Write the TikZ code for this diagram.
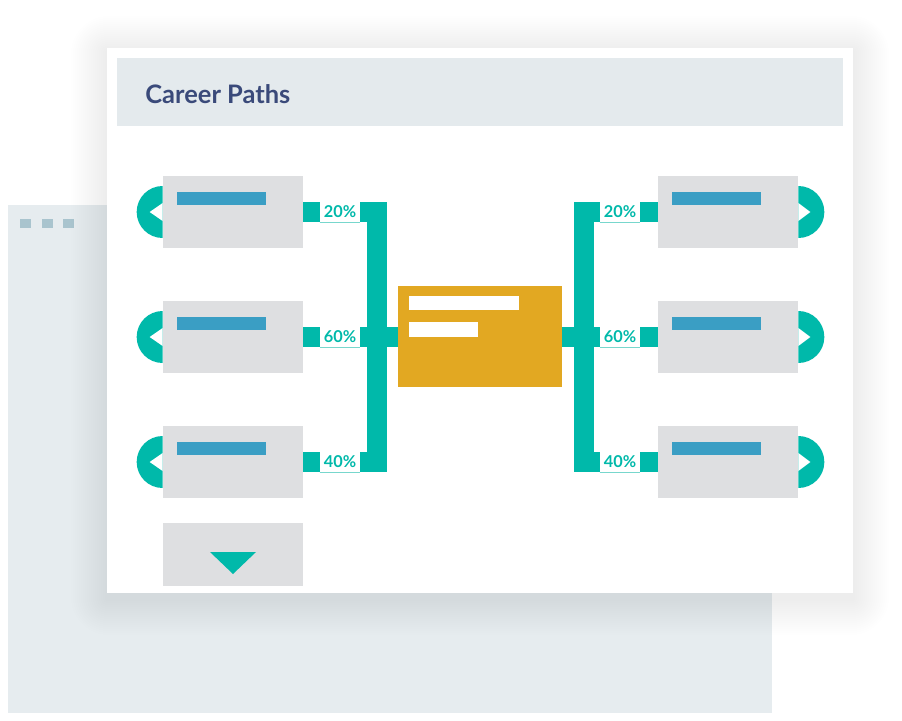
\documentclass[tikz,border=0pt]{standalone}
\usepackage{fontspec}
\setmainfont{Lato}
\usepackage{tikz}
\usetikzlibrary{calc}
\usepackage{xcolor}
\definecolor{pathteal}{RGB}{0,185,170}
\definecolor{lightteal}{RGB}{120,215,205}
\definecolor{boxgray}{RGB}{222,223,225}
\definecolor{barblue}{RGB}{58,158,196}
\definecolor{goldbox}{RGB}{226,168,34}
\definecolor{titleblue}{RGB}{58,74,122}
\definecolor{headgray}{RGB}{228,234,237}
\definecolor{panelgray}{RGB}{230,236,239}
\definecolor{dotblue}{RGB}{169,196,206}

\begin{document}
\begin{tikzpicture}[x=0.02cm, y=-0.02cm,
  card/.style={fill=boxgray, minimum width=2.8cm, minimum height=1.44cm, inner sep=0pt},
  bar/.style={draw=pathteal, line width=0.4cm},
  pct/.style={fill=white, text=pathteal, font=\fontsize{9.3}{10}\selectfont\bfseries,
    minimum width=0.8cm, minimum height=0.4cm, inner sep=0pt}]
  \useasboundingbox (0,0) rectangle (902,720);
  % back window
  \fill[panelgray] (8,205) rectangle (772,713);
  \foreach \x in {20,42,63}{
    \fill[dotblue] (\x,219) rectangle ++(11,9);
  }
  % front window with soft shadow
  \foreach \s [evaluate=\s as \rc using \s*0.6] in {2,4,...,36}{
    \fill[black, opacity=0.0032, rounded corners=\rc pt] (107-\s,48-\s+4) rectangle (853+\s,593+\s+6);
  }
  \fill[white] (107,48) rectangle (853,593);
  \fill[headgray] (117,58) rectangle (843,126);
  \node[anchor=base west, inner sep=0pt, text=titleblue, font=\fontsize{14.5}{17}\selectfont\bfseries] (title) at (145,103) {Career Paths};
  % current role
  \node[fill=goldbox, minimum width=3.28cm, minimum height=2.02cm, inner sep=0pt] (C) at (480,336.5) {};
  \fill[white] ([shift={(11,10)}]C.north west) rectangle ++(110,14);
  \fill[white] ([shift={(11,36)}]C.north west) rectangle ++(69,15);
  % spines
  \coordinate (lspine) at (376.5,202);
  \coordinate (lfoot) at (376.5,472);
  \coordinate (rspine) at (584,202);
  \coordinate (rfoot) at (584,472);
  \draw[bar] (lspine) -- (lfoot);
  \draw[bar] (rspine) -- (rfoot);
  \draw[bar] (lspine |- C.west) -- (C.west);
  \draw[bar] (C.east) -- (rspine |- C.east);
  % left and right roles
  \foreach \i/\y/\p/\q in {1/212/20/20, 2/337/60/60, 3/462/40/40}{
    \node[card] (L\i) at (233,\y) {};
    \fill[pathteal] (L\i.west) ++(0,26) arc[start angle=90, end angle=270, radius=26] -- cycle;
    \fill[white] (L\i.west) ++(-13,0) -- ++(13,-9) -- ++(0,18) -- cycle;
    \fill[barblue] ([shift={(14,16)}]L\i.north west) rectangle ++(89,13);
    \draw[bar] (L\i.east) -- (L\i.east -| lspine);
    \node[pct] (lp\i) at (340,\y) {\p\%};
    \draw[lightteal, line width=0.6pt] (lp\i.south west) -- (lp\i.south east);

    \node[card] (R\i) at (728,\y) {};
    \fill[pathteal] (R\i.east) ++(0,-26) arc[start angle=-90, end angle=90, radius=26] -- cycle;
    \fill[white] (R\i.east) ++(12,0) -- ++(-12,-9) -- ++(0,18) -- cycle;
    \fill[barblue] ([shift={(14,16)}]R\i.north west) rectangle ++(89,13);
    \draw[bar] (R\i.west) -- (R\i.west -| rspine);
    \node[pct] (rp\i) at (620,\y) {\q\%};
    \draw[lightteal, line width=0.6pt] (rp\i.south west) -- (rp\i.south east);
  }
  % show more
  \node[card, minimum height=1.26cm] (more) at (233,554.5) {};
  \fill[pathteal] ([shift={(-23,-2.5)}]more.center) -- ++(46,0) -- ([shift={(0,19.5)}]more.center) -- cycle;
\end{tikzpicture}
\end{document}
